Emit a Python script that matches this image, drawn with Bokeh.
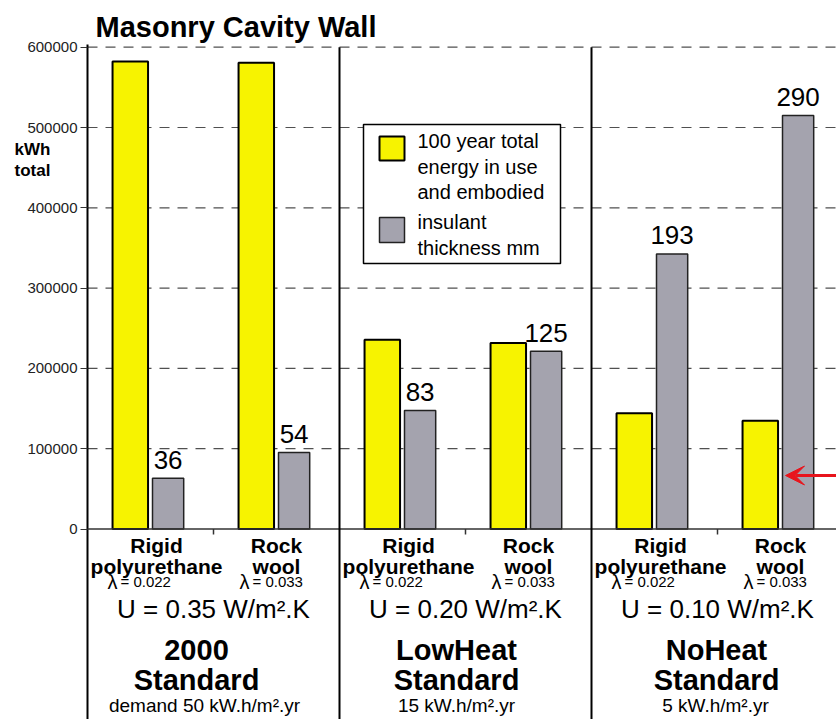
import numpy as np
from bokeh.plotting import figure
from bokeh.models import (Range1d, FixedTicker, NumeralTickFormatter, Label, Arrow, VeeHead,
                          BoxAnnotation)
from bokeh.core.properties import value
from bokeh.embed import file_html
from bokeh.resources import INLINE

# ---------------- data ----------------
title = "Masonry Cavity Wall"
y_label_lines = ["kWh", "total"]
standard_names = ["2000", "LowHeat", "NoHeat"]
standard_word = "Standard"
u_values = ["U = 0.35 W/m\u00b2.K", "U = 0.20 W/m\u00b2.K", "U = 0.10 W/m\u00b2.K"]
demands = ["demand 50 kW.h/m\u00b2.yr", "15 kW.h/m\u00b2.yr", "5 kW.h/m\u00b2.yr"]
insulant_line1 = ["Rigid", "Rock"]
insulant_line2 = ["polyurethane", "wool"]
insulant_lambda = ["0.022", "0.033"]
energy_total = [582300, 580600, 235700, 231500, 144300, 134800]   # kWh, 100 year total
thickness_mm = [36, 54, 83, 125, 193, 290]                         # insulant thickness
thickness_bar = [63200, 95200, 147500, 221400, 342500, 515000]     # bar heights drawn for thickness
y_ticks = [0, 100000, 200000, 300000, 400000, 500000, 600000]
legend_energy = ["100 year total", "energy in use", "and embodied"]
legend_thick = ["insulant", "thickness mm"]

# ---------------- layout helpers (pixels of the 836x719 page) ----------------
W, H = 836, 719
X0_PX = 87.0                   # x = 0 (the value axis)
PX_CAT = 126.0                 # pixels per category
Y0_PX, PX_PER_100K = 528.5, 481.8 / 6.0
YUNIT = 100000.0 / PX_PER_100K
TXT = 8.5                      # alphabetic text renders this much below its anchor


def yref(py):
    return (Y0_PX - py) * YUNIT


def xref(px):
    return (np.asarray(px, dtype=float) - X0_PX) / PX_CAT


def dx(px):
    return np.asarray(px, dtype=float) / PX_CAT


def ybase(py):
    """anchor that puts a text baseline on pixel row py"""
    return yref(py - TXT)


YELLOW = "#F7F300"
GREY = "#A4A3AE"
RED = "#E8141C"
FONT = value("Liberation Sans")

n_groups = len(standard_names)
n_cat = n_groups * len(insulant_line1)
cat = np.arange(n_cat) + 0.5
group_c = np.arange(n_groups) * 2 + 1.0
x_end = float(xref(W))

p = figure(width=W, height=H, output_backend="svg", toolbar_location=None,
           x_range=Range1d(float(xref(0)), x_end), y_range=Range1d(yref(H), yref(0)),
           min_border_left=0, min_border_right=0, min_border_top=0, min_border_bottom=0,
           x_axis_type=None, title=None)
p.outline_line_color = None
p.background_fill_color = "white"
p.border_fill_color = "white"
p.xgrid.visible = False
p.ygrid.visible = False

# y axis drawn inside the frame at x = 0
ya = p.yaxis[0]
ya.fixed_location = 0
ya.ticker = FixedTicker(ticks=y_ticks)
ya.formatter = NumeralTickFormatter(format="0")
ya.axis_line_color = None
ya.major_tick_out = 7
ya.major_tick_in = 0
ya.minor_tick_out = 0
ya.minor_tick_in = 0
ya.major_tick_line_color = "#333333"
ya.major_label_text_font = "Liberation Sans"
ya.major_label_text_font_size = "15px"
ya.major_label_text_color = "#222222"
ya.major_label_standoff = 3

# dashed grid lines
grid_y = y_ticks[1:]
p.segment(x0=0, y0=grid_y, x1=x_end, y1=grid_y, line_color="#505050", line_dash="10 8",
          line_width=1.2)

# bars
x_yellow = cat + dx(-20.2)
x_grey = cat + dx(17.6)
r_energy = p.vbar(x=x_yellow, top=energy_total, bottom=0, width=dx(35.5),
                  fill_color=YELLOW, line_color="black", line_width=2)
r_thick = p.vbar(x=x_grey, top=thickness_bar, bottom=0, width=dx(31.2),
                 fill_color=GREY, line_color="#222222", line_width=1.5)

# value axis line, category axis line and ticks
p.segment(x0=0, y0=yref(H), x1=0, y1=yref(44), line_color="black", line_width=2)
p.segment(x0=0, y0=0, x1=x_end, y1=0, line_color="#333333", line_width=1.5)
mid = np.arange(n_groups) * 2 + 1.0
p.segment(x0=mid, y0=0, x1=mid, y1=yref(534), line_color="#333333", line_width=1.5)

# group separators
sep = np.arange(1, n_groups) * 2.0
p.segment(x0=sep, y0=yref(H), x1=sep, y1=600000, line_color="black", line_width=2)

# bar value labels
p.text(x=x_grey, y=thickness_bar, text=[str(t) for t in thickness_mm], text_align="center",
       text_baseline="alphabetic", y_offset=-(10 + TXT), text_font=FONT, text_font_size="26px",
       text_color="black")

# category labels
line1 = insulant_line1 * n_groups
line2 = insulant_line2 * n_groups
lam = insulant_lambda * n_groups
name_dx = dx([6, 0] * n_groups)
p.text(x=cat + name_dx, y=ybase(553), text=line1, text_align="center", text_baseline="alphabetic",
       text_font=FONT, text_font_style="bold", text_font_size="21px", text_color="black")
p.text(x=cat + name_dx, y=ybase(574), text=line2, text_align="center", text_baseline="alphabetic",
       text_font=FONT, text_font_style="bold", text_font_size="21px", text_color="black")
lam_x = cat + dx([-33, -27] * n_groups)
p.text(x=lam_x, y=ybase(590), text=["\u03bb"] * n_cat, text_align="right", text_baseline="alphabetic",
       text_font=FONT, text_font_size="20px", text_color="black")
p.text(x=lam_x + dx(3), y=ybase(589.5), text=["= " + v for v in lam], text_align="left",
       text_baseline="alphabetic", text_font=FONT, text_font_size="15px", text_color="black")

# group labels
p.text(x=group_c, y=ybase(617), text=u_values, text_align="center", text_baseline="alphabetic",
       text_font=FONT, text_font_size="26px", text_color="black")
std_dx = dx([-17, -9, -1])
p.text(x=group_c + std_dx, y=ybase(658), text=standard_names, text_align="center",
       text_baseline="alphabetic", text_font=FONT, text_font_style="bold", text_font_size="29px",
       text_color="black")
p.text(x=group_c + std_dx, y=ybase(688), text=[standard_word] * n_groups, text_align="center",
       text_baseline="alphabetic", text_font=FONT, text_font_style="bold", text_font_size="29px",
       text_color="black")
p.text(x=group_c + dx([-9, -9, -2]), y=ybase(713), text=demands, text_align="center",
       text_baseline="alphabetic", text_font=FONT, text_font_size="19px", text_color="black")

# title and y label
p.add_layout(Label(x=float(xref(95)), y=ybase(35), text=title, text_font="Liberation Sans",
                   text_font_style="bold", text_font_size="29px", text_baseline="alphabetic",
                   text_color="black"))
for txt, by in zip(y_label_lines, [157, 178]):
    p.add_layout(Label(x=float(xref(14)), y=ybase(by), text=txt, text_font="Liberation Sans",
                       text_font_style="bold", text_font_size="17px", text_baseline="alphabetic",
                       text_color="black"))

# red arrow
p.add_layout(Arrow(end=VeeHead(size=19, fill_color=RED, fill_alpha=1.0, line_color=RED, line_width=1),
                   x_start=x_end, y_start=yref(475), x_end=float(xref(785)), y_end=yref(475),
                   line_color=RED, line_width=3))

# legend (drawn as annotations)
p.add_layout(BoxAnnotation(left=float(xref(363)), right=float(xref(560)), top=yref(124),
                           bottom=yref(263), fill_color="white", fill_alpha=1.0,
                           line_color="black", line_alpha=1.0, line_width=1.5))
p.add_layout(BoxAnnotation(left=float(xref(379)), right=float(xref(404)), top=yref(136),
                           bottom=yref(160), fill_color=YELLOW, fill_alpha=1.0,
                           line_color="black", line_alpha=1.0, line_width=2))
p.add_layout(BoxAnnotation(left=float(xref(379)), right=float(xref(404)), top=yref(217),
                           bottom=yref(242), fill_color=GREY, fill_alpha=1.0,
                           line_color="#222222", line_alpha=1.0, line_width=1.5))
for lines, bases in ((legend_energy, [149, 174.5, 200]), (legend_thick, [230, 256])):
    for txt, by in zip(lines, bases):
        p.add_layout(Label(x=float(xref(417)), y=ybase(by), text=txt, text_font="Liberation Sans",
                           text_font_size="20px", text_baseline="alphabetic", text_color="black"))

open("out.html", "w").write(file_html(p, INLINE))
